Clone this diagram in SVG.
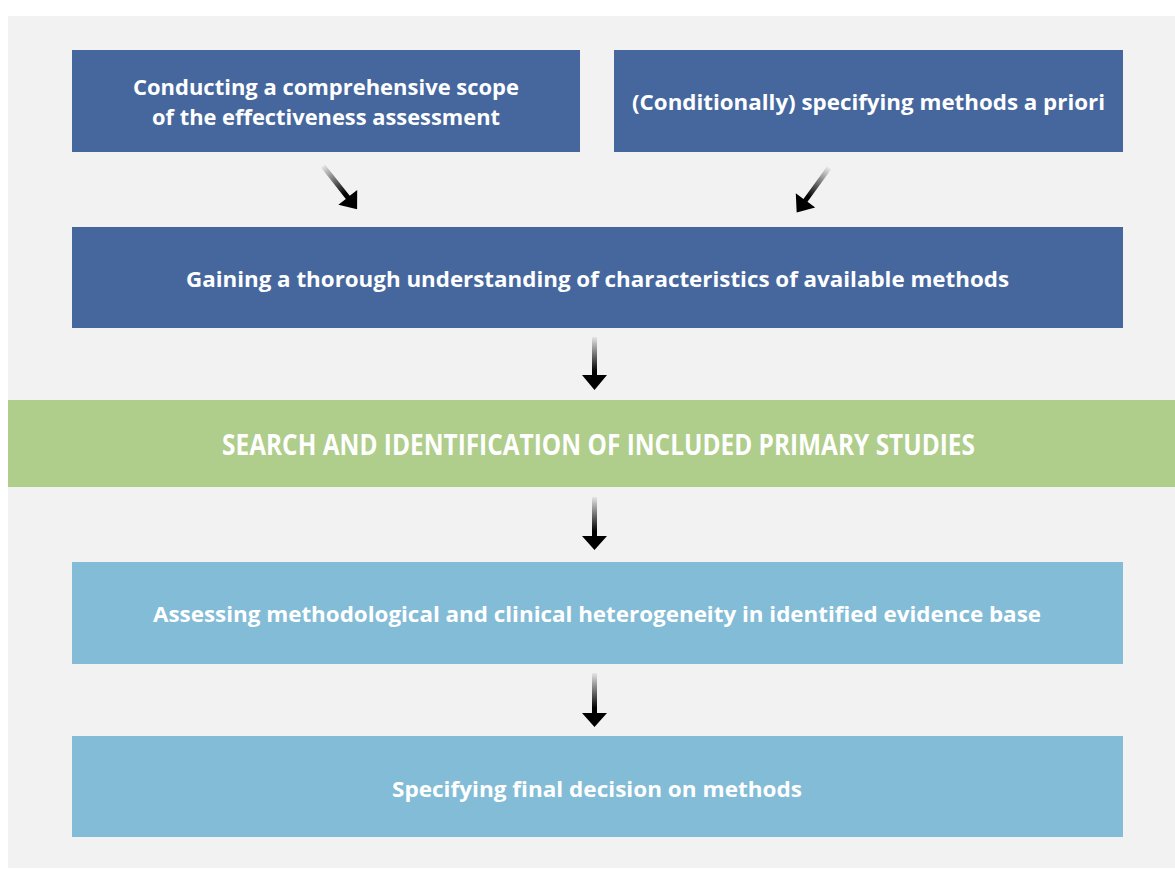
<svg xmlns="http://www.w3.org/2000/svg" width="1175" height="869" viewBox="0 0 1175 869">
<style>
.dark{fill:#45679e}
.green{fill:#afcd8b}
.light{fill:#83bcd6}
.t{font-family:"Open Sans","Liberation Sans",sans-serif;font-weight:700;fill:#ffffff;text-anchor:middle;font-size:21px}
.tg{font-family:"Open Sans","Liberation Sans",sans-serif;font-weight:700;fill:#ffffff;text-anchor:middle;font-size:28px}
.arr{fill:url(#fade)}
</style>
<defs>
<linearGradient id="fade" x1="0" y1="0" x2="0" y2="1">
<stop offset="0" stop-color="#e6e6e6"/>
<stop offset="0.65" stop-color="#000000"/>
<stop offset="1" stop-color="#000000"/>
</linearGradient>
</defs>
<rect x="0" y="0" width="1175" height="869" fill="#ffffff"/>
<rect x="8" y="16" width="1167" height="852" fill="#f2f2f2"/>

<g id="node-scope">
<rect class="dark" x="72" y="50" width="508" height="102"/>
<text class="t" x="326" y="95" textLength="386" lengthAdjust="spacingAndGlyphs">Conducting a comprehensive scope</text>
<text class="t" x="326" y="125" textLength="348" lengthAdjust="spacingAndGlyphs">of the effectiveness assessment</text>
</g>
<g id="node-apriori">
<rect class="dark" x="614" y="50" width="509" height="102"/>
<text class="t" x="868.5" y="110" textLength="473" lengthAdjust="spacingAndGlyphs">(Conditionally) specifying methods a priori</text>
</g>
<g id="node-understanding">
<rect class="dark" x="72" y="227" width="1051" height="101"/>
<text class="t" x="597.5" y="287" textLength="823" lengthAdjust="spacingAndGlyphs">Gaining a thorough understanding of characteristics of available methods</text>
</g>
<g id="node-search">
<rect class="green" x="8" y="400" width="1167" height="87"/>
<text class="tg" x="598.5" y="455" textLength="753" lengthAdjust="spacingAndGlyphs">SEARCH AND IDENTIFICATION OF INCLUDED PRIMARY STUDIES</text>
</g>
<g id="node-heterogeneity">
<rect class="light" x="72" y="562" width="1051" height="102"/>
<text class="t" x="597" y="622" textLength="888" lengthAdjust="spacingAndGlyphs">Assessing methodological and clinical heterogeneity in identified evidence base</text>
</g>
<g id="node-final">
<rect class="light" x="72" y="736" width="1051" height="101"/>
<text class="t" x="597" y="797" textLength="410" lengthAdjust="spacingAndGlyphs">Specifying final decision on methods</text>
</g>

<g id="connectors">
<path class="arr" transform="translate(323,166) rotate(-38.3)" d="M-2.5,0 H2.5 V40 H12 L0,55 L-12,40 H-2.5 Z"/>
<path class="arr" transform="translate(829,168) rotate(36)" d="M-2.5,0 H2.5 V40 H12 L0,55 L-12,40 H-2.5 Z"/>
<path class="arr" d="M592,337 H597 V375 H607 L594.5,390 L582,375 H592 Z"/>
<path class="arr" d="M592,497 H597 V536 H607 L594.5,550 L582,536 H592 Z"/>
<path class="arr" d="M592,673 H597 V713 H607 L594.5,727 L582,713 H592 Z"/>
</g>
</svg>
